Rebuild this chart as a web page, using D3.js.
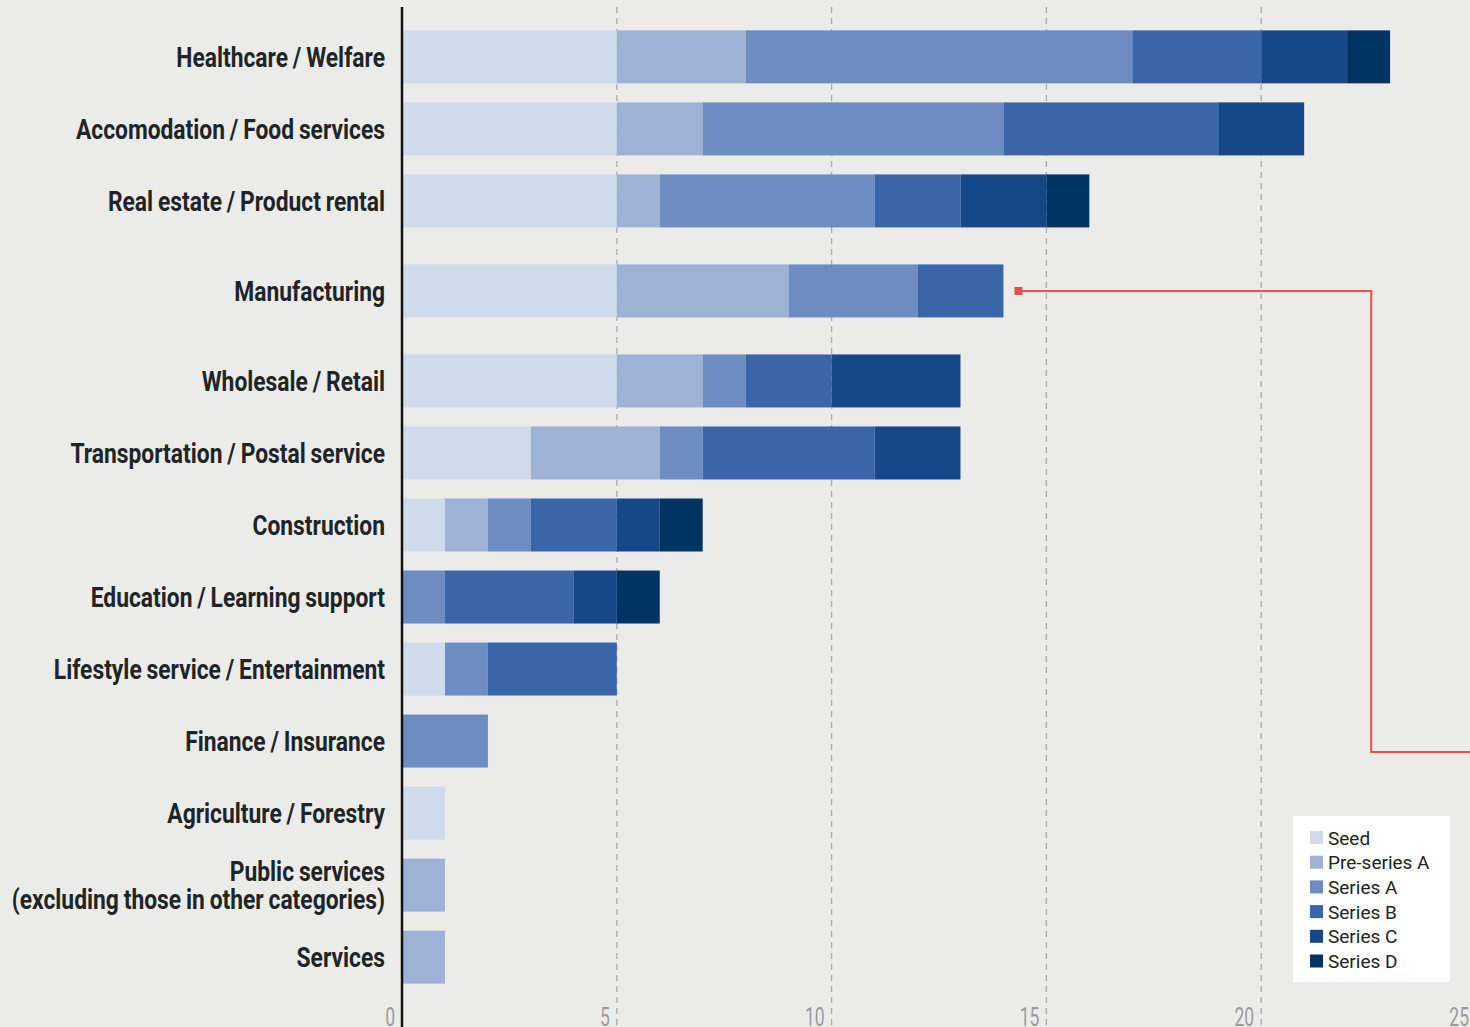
<!DOCTYPE html>
<html lang="en">
<head>
<meta charset="UTF-8">
<script src="https://d3js.org/d3.v7.min.js"></script>
<title>Funding rounds by industry</title>
<style>
  body { margin: 0; background: #ebecea; }
  svg { display: block; }
  .cat { font-family: "Roboto", sans-serif; font-weight: bold; fill: #1f2526; }
  .tick-label { font-family: "Roboto", sans-serif; fill: #9a9c9c; }
  .legend text { font-family: "Roboto", "Inter", sans-serif; fill: #222; }
</style>
</head>
<body>
<div id="chart"></div>
<script>
// categories (top to bottom)
var categories = [
  "Healthcare / Welfare",
  "Accomodation / Food services",
  "Real estate / Product rental",
  "Manufacturing",
  "Wholesale / Retail",
  "Transportation / Postal service",
  "Construction",
  "Education / Learning support",
  "Lifestyle service / Entertainment",
  "Finance / Insurance",
  "Agriculture / Forestry",
  "Public services\n(excluding those in other categories)",
  "Services"
];

// stage names
var stages = ["Seed", "Pre-series A", "Series A", "Series B", "Series C", "Series D"];

// counts per stage, same order as categories
var seed       = [5, 5, 5, 5, 5, 3, 1, 0, 1, 0, 1, 0, 0];
var preSeriesA = [3, 2, 1, 4, 2, 3, 1, 0, 0, 0, 0, 1, 1];
var seriesA    = [9, 7, 5, 3, 1, 1, 1, 1, 1, 2, 0, 0, 0];
var seriesB    = [3, 5, 2, 2, 2, 4, 2, 3, 3, 0, 0, 0, 0];
var seriesC    = [2, 2, 2, 0, 3, 2, 1, 1, 0, 0, 0, 0, 0];
var seriesD    = [1, 0, 1, 0, 0, 0, 1, 1, 0, 0, 0, 0, 0];

var xTicks = [0, 5, 10, 15, 20, 25];
var colors = ["#cfdbea", "#9db2d4", "#6d8cc1", "#3a65a9", "#164789", "#023463"];

var W = 1470, H = 1027;
var x0 = 402, x25 = 1476;
var squeeze = 0.815; // condensed look for labels

var rows = categories.map(function (c, i) {
  return { cat: c, Seed: seed[i], "Pre-series A": preSeriesA[i], "Series A": seriesA[i],
           "Series B": seriesB[i], "Series C": seriesC[i], "Series D": seriesD[i] };
});

var svg = d3.select("#chart").append("svg")
  .attr("width", W).attr("height", H);

svg.append("rect").attr("width", W).attr("height", H).attr("fill", "#ebecea");

var x = d3.scaleLinear().domain([0, 25]).range([x0, x25]);

// band scale; Manufacturing row has a little extra room around it
var y = d3.scaleBand().domain(categories).range([21, 957]).paddingInner(0.264).paddingOuter(0.13);
var gap = 18;
function yPos(c) {
  var i = categories.indexOf(c);
  var off = i < 3 ? 0 : (i === 3 ? gap : 2 * gap);
  return y(c) + off;
}

// gridlines
svg.append("g").selectAll("line")
  .data(xTicks.filter(function (d) { return d > 0; }))
  .join("line")
  .attr("x1", function (d) { return x(d); })
  .attr("x2", function (d) { return x(d); })
  .attr("y1", 7).attr("y2", H)
  .attr("stroke", "#a9abaa")
  .attr("stroke-width", 1.3)
  .attr("stroke-dasharray", "6,5");

// stacked bars
var stack = d3.stack().keys(stages);
var series = stack(rows);

svg.append("g").selectAll("g")
  .data(series)
  .join("g")
  .attr("fill", function (d, i) { return colors[i]; })
  .selectAll("rect")
  .data(function (d) { return d; })
  .join("rect")
  .attr("x", function (d) { return x(d[0]); })
  .attr("width", function (d) { return x(d[1]) - x(d[0]); })
  .attr("y", function (d) { return yPos(d.data.cat); })
  .attr("height", y.bandwidth());

// y axis line
svg.append("line")
  .attr("x1", x0).attr("x2", x0)
  .attr("y1", 7).attr("y2", H)
  .attr("stroke", "#111").attr("stroke-width", 2.5);

// category labels
var labels = svg.append("g").selectAll("text")
  .data(categories)
  .join("text")
  .attr("class", "cat")
  .attr("text-anchor", "end")
  .attr("font-size", 28)
  .attr("word-spacing", -1)
  .attr("transform", function (d) {
    return "translate(" + (x0 - 17) + "," + (yPos(d) + y.bandwidth() / 2) + ") scale(" + squeeze + ",1)";
  });

labels.each(function (d) {
  var lines = d.split("\n");
  var t = d3.select(this);
  lines.forEach(function (l, k) {
    t.append("tspan")
      .attr("x", 0)
      .attr("dy", k === 0 ? (0.36 - (lines.length - 1) * 0.49) + "em" : "0.98em")
      .text(l);
  });
});

// x tick labels
svg.append("g").selectAll("text")
  .data(xTicks)
  .join("text")
  .attr("class", "tick-label")
  .attr("text-anchor", "end")
  .attr("font-size", 25)
  .attr("transform", function (d) { return "translate(" + (x(d) - 7) + ",1026) scale(0.7,1)"; })
  .text(function (d) { return d; });

// annotation from Manufacturing bar
var mfgEnd = d3.sum(stages, function (s) { return rows[3][s]; });
var ay = yPos(categories[3]) + y.bandwidth() / 2;
var ax = x(mfgEnd) + 15;
var cx = x(22.56);
svg.append("path")
  .attr("d", "M" + ax + "," + ay + "H" + cx + "V752H" + W)
  .attr("fill", "none")
  .attr("stroke", "#e4524c")
  .attr("stroke-width", 2);
svg.append("rect")
  .attr("x", ax - 4).attr("y", ay - 4)
  .attr("width", 8).attr("height", 8)
  .attr("fill", "#e4524c");

// legend
var lg = svg.append("g").attr("class", "legend").attr("transform", "translate(1293,816)");
lg.append("rect").attr("width", 157).attr("height", 166).attr("fill", "#fff");
var item = lg.selectAll("g.item")
  .data(stages)
  .join("g")
  .attr("class", "item")
  .attr("transform", function (d, i) { return "translate(17," + (15 + i * 24.7) + ")"; });
item.append("rect")
  .attr("width", 13).attr("height", 13)
  .attr("fill", function (d, i) { return colors[i]; });
item.append("text")
  .attr("x", 18).attr("y", 7)
  .attr("dy", "0.35em")
  .attr("font-size", 19)
  .text(function (d) { return d; });
</script>
</body>
</html>
